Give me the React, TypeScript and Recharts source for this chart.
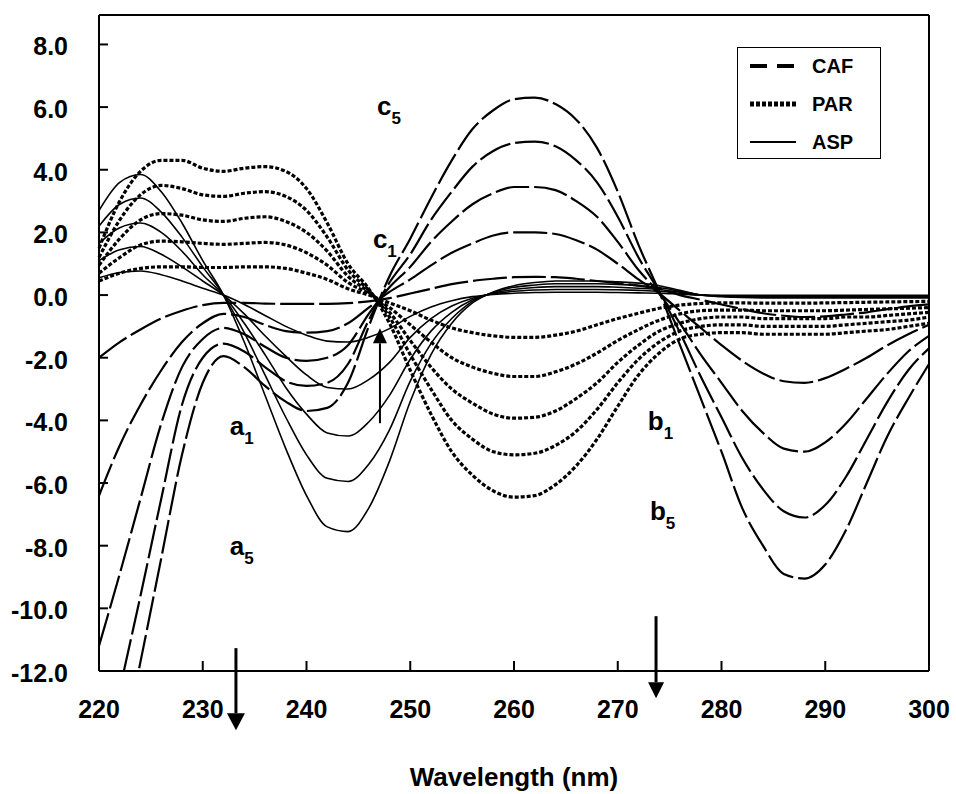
import { LineChart, Line, XAxis, YAxis, ReferenceLine, ReferenceDot, Legend } from 'recharts';

// wavelengths (nm), one sample every 2 nm
const wavelengths = [
  220, 222, 224, 226, 228, 230, 232, 234, 236, 238, 240, 242, 244, 246, 248, 250, 252, 254, 256, 258, 260,
  262, 264, 266, 268, 270, 272, 274, 276, 278, 280, 282, 284, 286, 288, 290, 292, 294, 296, 298, 300,
];

// CAF (dashed)
const caf1 = [-2.0, -1.5, -1.1, -0.75, -0.5, -0.32, -0.25, -0.25, -0.27, -0.28, -0.28, -0.28, -0.26, -0.2, -0.1, 0.05, 0.2, 0.35, 0.45, 0.52, 0.57, 0.58, 0.57, 0.52, 0.45, 0.38, 0.3, 0.2, 0.0, -0.15, -0.3, -0.45, -0.58, -0.66, -0.7, -0.68, -0.62, -0.55, -0.45, -0.36, -0.3];
const caf2 = [-6.4, -4.8, -3.5, -2.4, -1.5, -0.9, -0.6, -0.7, -0.95, -1.15, -1.2, -1.15, -0.9, -0.4, 0.1, 0.5, 0.95, 1.35, 1.65, 1.9, 2.0, 2.0, 1.95, 1.75, 1.45, 1.0, 0.5, 0.05, -0.5, -1.05, -1.6, -2.1, -2.5, -2.75, -2.8, -2.65, -2.35, -2.0, -1.6, -1.25, -0.95];
const caf3 = [-11.2, -8.9, -6.5, -4.1, -2.3, -1.4, -1.05, -1.25, -1.65, -2.0, -2.1, -2.0, -1.6, -0.6, 0.25, 0.9, 1.7, 2.35, 2.9, 3.25, 3.45, 3.45, 3.35, 3.0, 2.5, 1.7, 0.8, 0.05, -0.9, -1.9, -2.8, -3.7, -4.4, -4.9, -5.0, -4.7, -4.1, -3.3, -2.5, -1.8, -1.3];
const caf4 = [-15.7, -12.6, -9.6, -6.5, -3.5, -2.0, -1.55, -1.8, -2.3, -2.75, -2.9, -2.8, -2.2, -0.8, 0.4, 1.3, 2.4, 3.3, 4.1, 4.6, 4.85, 4.9, 4.75, 4.3, 3.6, 2.5, 1.2, 0.1, -1.2, -2.6, -3.9, -5.2, -6.2, -6.9, -7.1, -6.7, -5.8, -4.6, -3.4, -2.4, -1.7];
const caf5 = [-18.0, -14.9, -11.7, -8.4, -5.1, -2.8, -1.95, -2.3, -2.9, -3.4, -3.7, -3.6, -2.8, -1.0, 0.6, 1.8, 3.1, 4.3, 5.3, 5.9, 6.25, 6.3, 6.1, 5.6, 4.7, 3.3, 1.6, 0.1, -1.6, -3.3, -5.0, -6.8, -8.0, -8.9, -9.05, -8.6, -7.5, -6.0, -4.5, -3.3, -2.2];

// PAR (dotted)
const par1 = [0.45, 0.7, 0.85, 0.9, 0.9, 0.88, 0.88, 0.9, 0.9, 0.85, 0.7, 0.5, 0.2, 0.0, -0.25, -0.5, -0.8, -1.05, -1.2, -1.3, -1.35, -1.35, -1.28, -1.15, -0.95, -0.75, -0.58, -0.42, -0.32, -0.27, -0.25, -0.25, -0.26, -0.26, -0.26, -0.25, -0.24, -0.23, -0.22, -0.21, -0.2];
const par2 = [0.7, 1.2, 1.6, 1.72, 1.7, 1.65, 1.62, 1.65, 1.68, 1.6, 1.35, 0.95, 0.4, 0.05, -0.4, -0.95, -1.5, -2.0, -2.3, -2.5, -2.6, -2.6, -2.45, -2.2, -1.85, -1.45, -1.1, -0.8, -0.6, -0.5, -0.48, -0.48, -0.5, -0.5, -0.5, -0.5, -0.48, -0.46, -0.44, -0.42, -0.4];
const par3 = [0.95, 1.8, 2.4, 2.6, 2.55, 2.4, 2.35, 2.45, 2.5, 2.35, 2.0, 1.4, 0.6, 0.1, -0.55, -1.45, -2.3, -3.0, -3.45, -3.8, -3.93, -3.9, -3.7, -3.3, -2.8, -2.15, -1.6, -1.15, -0.9, -0.75, -0.7, -0.7, -0.75, -0.75, -0.75, -0.75, -0.7, -0.7, -0.65, -0.6, -0.55];
const par4 = [1.2, 2.4, 3.2, 3.5, 3.4, 3.2, 3.15, 3.25, 3.3, 3.15, 2.7, 1.85, 0.8, 0.15, -0.7, -1.9, -3.0, -4.0, -4.6, -5.0, -5.1, -5.05, -4.8, -4.35, -3.65, -2.8, -2.05, -1.5, -1.15, -1.0, -0.95, -0.95, -1.0, -1.0, -1.0, -1.0, -0.95, -0.9, -0.85, -0.8, -0.7];
const par5 = [1.5, 3.0, 3.95, 4.3, 4.3, 4.05, 3.95, 4.05, 4.1, 3.95, 3.4, 2.3, 1.0, 0.2, -0.9, -2.4, -3.8, -5.0, -5.75, -6.25, -6.45, -6.4, -6.05, -5.45, -4.6, -3.55, -2.55, -1.85, -1.4, -1.25, -1.2, -1.2, -1.25, -1.25, -1.25, -1.25, -1.2, -1.15, -1.1, -1.0, -0.9];

// ASP (solid)
const asp1 = [0.55, 0.72, 0.77, 0.65, 0.45, 0.22, 0.0, -0.3, -0.65, -1.0, -1.28, -1.47, -1.5, -1.35, -1.07, -0.68, -0.38, -0.18, -0.05, 0.02, 0.06, 0.08, 0.09, 0.09, 0.09, 0.08, 0.07, 0.06, 0.03, 0.0, -0.01, -0.01, -0.01, -0.01, -0.01, -0.01, -0.01, -0.01, -0.01, -0.01, -0.01];
const asp2 = [1.1, 1.45, 1.55, 1.3, 0.9, 0.45, 0.0, -0.6, -1.3, -1.95, -2.55, -2.95, -3.0, -2.7, -2.15, -1.35, -0.75, -0.35, -0.1, 0.04, 0.12, 0.16, 0.18, 0.18, 0.18, 0.17, 0.15, 0.12, 0.06, 0.0, -0.02, -0.03, -0.03, -0.03, -0.03, -0.03, -0.03, -0.03, -0.03, -0.03, -0.03];
const asp3 = [1.65, 2.15, 2.3, 2.0, 1.4, 0.65, 0.0, -0.9, -1.9, -2.95, -3.8, -4.4, -4.5, -4.05, -3.2, -2.05, -1.15, -0.55, -0.15, 0.06, 0.18, 0.24, 0.27, 0.27, 0.27, 0.25, 0.22, 0.18, 0.09, 0.0, -0.03, -0.04, -0.05, -0.05, -0.05, -0.05, -0.05, -0.05, -0.05, -0.05, -0.05];
const asp4 = [2.2, 2.9, 3.1, 2.65, 1.85, 0.9, 0.0, -1.2, -2.55, -3.9, -5.1, -5.85, -5.95, -5.4, -4.3, -2.75, -1.55, -0.75, -0.2, 0.08, 0.25, 0.32, 0.36, 0.36, 0.36, 0.34, 0.3, 0.24, 0.12, 0.0, -0.04, -0.06, -0.07, -0.07, -0.07, -0.07, -0.07, -0.07, -0.07, -0.07, -0.07];
const asp5 = [2.7, 3.6, 3.85, 3.3, 2.3, 1.1, 0.0, -1.5, -3.2, -4.9, -6.4, -7.4, -7.55, -6.8, -5.3, -3.4, -1.9, -0.9, -0.25, 0.1, 0.3, 0.4, 0.45, 0.45, 0.45, 0.42, 0.38, 0.3, 0.15, 0.0, -0.05, -0.08, -0.09, -0.09, -0.09, -0.09, -0.09, -0.09, -0.09, -0.09, -0.09];

const xTicks = [220, 230, 240, 250, 260, 270, 280, 290, 300];
const yTicks = [-12, -10, -8, -6, -4, -2, 0, 2, 4, 6, 8];

// curve labels: letter, subscript, position in data units (left edge / baseline)
const curveLabels = [
  { main: 'c', sub: '5', x: 246.8, y: 5.74 },
  { main: 'c', sub: '1', x: 246.4, y: 1.49 },
  { main: 'a', sub: '1', x: 232.6, y: -4.47 },
  { main: 'a', sub: '5', x: 232.6, y: -8.31 },
  { main: 'b', sub: '1', x: 272.9, y: -4.3 },
  { main: 'b', sub: '5', x: 273.1, y: -7.19 },
];

// arrows: from -> to (tip), data units
const arrows = [
  { x: 247.08, from: -4.09, to: -1.06, head: 15, half: 7, width: 2 },
  { x: 233.2, from: -11.27, to: -13.89, head: 17, half: 9, width: 3 },
  { x: 273.69, from: -10.25, to: -12.87, head: 16, half: 8, width: 3 },
];

const FONT = '"Liberation Sans", Arial, Helvetica, sans-serif';
const Y_DOMAIN: [number, number] = [-12, 8.94];
const X_DOMAIN: [number, number] = [220, 300];

const STYLES: Record<string, { width: number; dash?: string }> = {
  CAF: { width: 2.2, dash: '34 5' },
  PAR: { width: 3.2, dash: '4 2' },
  ASP: { width: 1.6 },
};

const series = [
  { key: 'caf1', group: 'CAF', values: caf1 },
  { key: 'caf2', group: 'CAF', values: caf2 },
  { key: 'caf3', group: 'CAF', values: caf3 },
  { key: 'caf4', group: 'CAF', values: caf4 },
  { key: 'caf5', group: 'CAF', values: caf5 },
  { key: 'par1', group: 'PAR', values: par1 },
  { key: 'par2', group: 'PAR', values: par2 },
  { key: 'par3', group: 'PAR', values: par3 },
  { key: 'par4', group: 'PAR', values: par4 },
  { key: 'par5', group: 'PAR', values: par5 },
  { key: 'asp1', group: 'ASP', values: asp1 },
  { key: 'asp2', group: 'ASP', values: asp2 },
  { key: 'asp3', group: 'ASP', values: asp3 },
  { key: 'asp4', group: 'ASP', values: asp4 },
  { key: 'asp5', group: 'ASP', values: asp5 },
];

const data = wavelengths.map((w, i) => {
  const row: Record<string, number> = { w };
  series.forEach((s) => {
    row[s.key] = s.values[i];
  });
  return row;
});

const legendRows = [
  { name: 'CAF', dash: '17 10', width: 4, y: 18 },
  { name: 'PAR', dash: '4 2', width: 5, y: 56 },
  { name: 'ASP', dash: undefined, width: 2.2, y: 94 },
];

const renderLegend = () => (
  <div
    style={{
      position: 'relative',
      width: 144,
      height: 112,
      boxSizing: 'border-box',
      border: '1.5px solid #000',
      background: '#fff',
      fontFamily: FONT,
      fontWeight: 'bold',
      fontSize: 20,
      color: '#000',
    }}
  >
    {legendRows.map((r) => (
      <div key={r.name}>
        <svg width={46} height={10} style={{ position: 'absolute', left: 12, top: r.y - 5 }}>
          <line x1={0} y1={5} x2={46} y2={5} stroke="#000" strokeWidth={r.width} strokeDasharray={r.dash} />
        </svg>
        <span style={{ position: 'absolute', left: 74, top: r.y - 12, lineHeight: '24px' }}>{r.name}</span>
      </div>
    ))}
  </div>
);

const renderArrow = (a: (typeof arrows)[number]) => (p: any) => {
  const { x1, y1, x2, y2 } = p;
  const dir = y2 > y1 ? 1 : -1;
  const baseY = y2 - dir * a.head;
  return (
    <g>
      <line x1={x1} y1={y1} x2={x2} y2={baseY} stroke="#000" strokeWidth={a.width} />
      <polygon points={`${x2 - a.half},${baseY} ${x2 + a.half},${baseY} ${x2},${y2}`} fill="#000" />
    </g>
  );
};

const renderCurveLabel = (l: (typeof curveLabels)[number]) => (p: any) => (
  <text x={p.cx} y={p.cy} fontFamily={FONT} fontWeight="bold" fontSize={26} fill="#000">
    {l.main}
    <tspan dx={0} dy={9} fontSize={17}>
      {l.sub}
    </tspan>
  </text>
);

const axisTick = { fill: '#000', fontSize: 25, fontWeight: 'bold', fontFamily: FONT };

export default function App() {
  return (
    <div style={{ position: 'absolute', left: 0, top: 0, width: 956, height: 794, background: '#fff' }}>
      <LineChart width={956} height={794} data={data} margin={{ top: 14, right: 26, bottom: 83, left: 39 }}>
        <XAxis
          dataKey="w"
          type="number"
          domain={X_DOMAIN}
          ticks={xTicks}
          interval={0}
          stroke="#000"
          strokeWidth={2}
          tickSize={-10}
          tickMargin={39}
          height={40}
          tick={axisTick}
          label={{
            value: 'Wavelength (nm)',
            position: 'insideBottom',
            offset: -75,
            fill: '#000',
            fontSize: 26,
            fontWeight: 'bold',
            fontFamily: FONT,
          }}
        />
        {/* frame: top and right axes, tick marks only */}
        <XAxis
          xAxisId="top"
          orientation="top"
          dataKey="w"
          type="number"
          domain={X_DOMAIN}
          ticks={xTicks}
          interval={0}
          stroke="#000"
          strokeWidth={2}
          tickSize={-9}
          height={1}
          tick={false}
        />
        <YAxis
          type="number"
          domain={Y_DOMAIN}
          allowDataOverflow
          ticks={yTicks}
          interval={0}
          stroke="#000"
          strokeWidth={2}
          tickSize={-9}
          tickMargin={40}
          width={60}
          tick={{ ...axisTick, dy: 2 }}
          tickFormatter={(v: number) => v.toFixed(1)}
        />
        <YAxis
          yAxisId="right"
          orientation="right"
          type="number"
          domain={Y_DOMAIN}
          allowDataOverflow
          ticks={yTicks}
          interval={0}
          stroke="#000"
          strokeWidth={2}
          tickSize={-10}
          width={1}
          tick={false}
        />
        <Legend
          content={renderLegend}
          layout="vertical"
          align="center"
          verticalAlign="middle"
          wrapperStyle={{ left: 737, top: 47, width: 144, height: 112 }}
        />
        {/* invisible series so the frame axes have something bound to them */}
        <Line
          xAxisId="top"
          yAxisId="right"
          dataKey="caf1"
          stroke="none"
          dot={false}
          activeDot={false}
          legendType="none"
          isAnimationActive={false}
        />
        {series.map((s) => (
          <Line
            key={s.key}
            dataKey={s.key}
            type="monotone"
            stroke="#000"
            strokeWidth={STYLES[s.group].width}
            strokeDasharray={STYLES[s.group].dash}
            dot={false}
            activeDot={false}
            legendType="none"
            isAnimationActive={false}
          />
        ))}
        {arrows.map((a, i) => (
          <ReferenceLine
            key={`arrow-${i}`}
            segment={[
              { x: a.x, y: a.from },
              { x: a.x, y: a.to },
            ]}
            ifOverflow="visible"
            shape={renderArrow(a)}
          />
        ))}
        {curveLabels.map((l, i) => (
          <ReferenceDot
            key={`label-${i}`}
            x={l.x}
            y={l.y}
            r={0}
            ifOverflow="visible"
            shape={renderCurveLabel(l)}
          />
        ))}
      </LineChart>
    </div>
  );
}
